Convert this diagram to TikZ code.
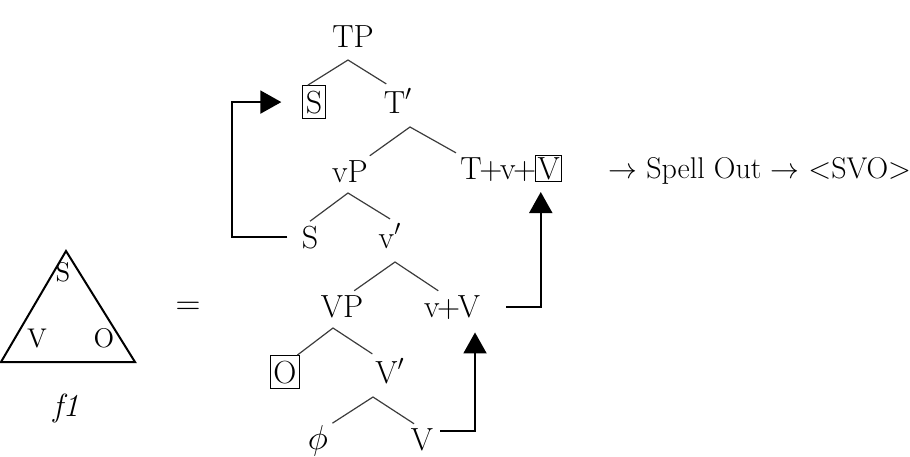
\documentclass[tikz,border=0pt]{standalone}
\usepackage{amsmath, amssymb}
\usepackage{xcolor}
\usepackage{tikz}
\usetikzlibrary{positioning, arrows.meta}
\definecolor{treeLine}{HTML}{3C3C3C}
\newcommand{\pl}{\kern-1.2pt+\kern-1.2pt}

\begin{document}
\begin{tikzpicture}[x=0.5pt, y=-0.5pt, font=\fontsize{16}{19}\selectfont,
  lbl/.style={inner sep=2pt, anchor=base},
  boxd/.style={draw, line width=0.5pt, inner xsep=1.5pt, inner ysep=2.5pt, anchor=base},
  branch/.style={treeLine, line width=0.6pt},
  mv/.style={line width=1pt, -{Triangle[length=10.5pt, width=11.5pt]}},
  triLbl/.style={inner sep=0pt, anchor=base, font=\fontsize{13.5}{16}\selectfont}]
  \useasboundingbox (0,0) rectangle (910,456);

  % f1 triangle
  \draw[line width=1pt] (66,251) -- (1,362) -- (135,362) -- cycle;
  \node[triLbl] (triS) at (63,281) {S};
  \node[triLbl] (triV) at (37,347) {V};
  \node[triLbl] (triO) at (104,347) {O};
  \node[lbl] (fOne) at (66,416) {\textit{f1}};
  \node (eq) at (188,308) {$=$};

  % tree
  \node[lbl] (tp) at (353,47) {TP};
  \node[boxd] (sSpec) at (314,113) {S};
  \node[lbl] (tBar) at (398,113) {T$'$};
  \node[lbl] (vP) at (350,182) {vP};
  \node[lbl, anchor=base west] (tvv) at (456,179) {T\pl v\pl};
  \node[boxd, inner sep=1pt, anchor=base west] (vBox) at ([xshift=-1.5pt]tvv.base east) {V};
  \node[lbl] (sLow) at (310,248) {S};
  \node[lbl] (vBar) at (390,248) {v$'$};
  \node[lbl] (bigVP) at (342,317) {VP};
  \node[lbl] (vv) at (452,317) {v\pl V};
  \node[boxd] (oBox) at (285,383) {O};
  \node[lbl] (vBarLow) at (390,383) {V$'$};
  \node[lbl] (phiN) at (318,449) {$\phi$};
  \node[lbl] (vLow) at (422,450) {V};

  \coordinate (tpTop) at (348,60);
  \coordinate (tBarTop) at (410,127);
  \coordinate (vPTop) at (348,193);
  \coordinate (vBarTop) at (395,262);
  \coordinate (bigVPTop) at (333,328);
  \coordinate (vBarLowTop) at (373,397);
  \draw[branch] (sSpec.110) -- (tpTop) -- (tBar.125);
  \draw[branch] (vP.38) -- (tBarTop) -- (tvv.north west);
  \draw[branch] (sLow.north) -- (vPTop) -- (vBar.north);
  \draw[branch] (bigVP.52) -- (vBarTop) -- (vv.130);
  \draw[branch] (oBox.54) -- (bigVPTop) -- (vBarLow.136);
  \draw[branch] (phiN.50) -- (vBarLowTop) -- (vLow.117);

  % movement
  \draw[mv] ([xshift=-5pt]sLow.west) -- ++(-55,0) |- ([xshift=-10.5pt]sSpec.west);
  \draw[mv] ([xshift=11pt]vv.east) -| ([shift={(-4pt,-5pt)}]vBox.south);
  \draw[mv] ([shift={(1.5pt,4pt)}]vLow.east) -| ([shift={(11.5pt,-4.5pt)}]vv.south);

  \node[lbl, anchor=base west, font=\fontsize{15}{18}\selectfont] (spell) at (604,178)
    {$\rightarrow$ Spell Out $\rightarrow$ \textless SVO\textgreater};
\end{tikzpicture}
\end{document}
